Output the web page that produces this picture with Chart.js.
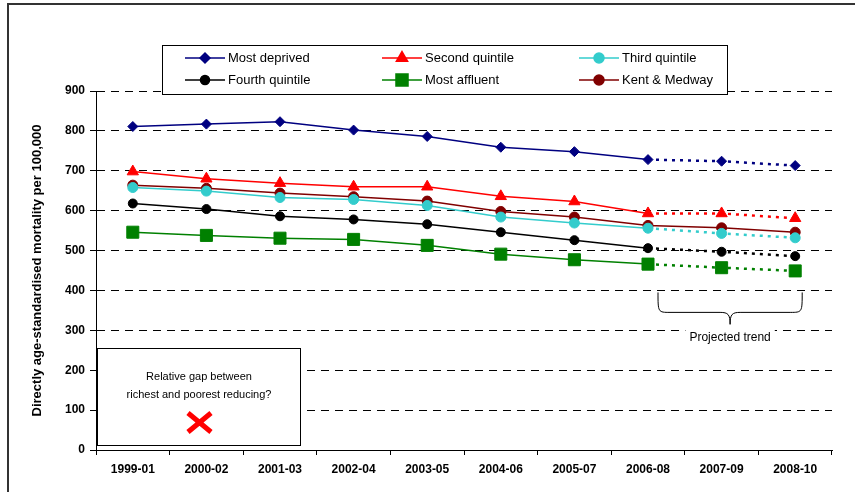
<!DOCTYPE html>
<html>
<head>
<meta charset="utf-8">
<script src="https://cdn.jsdelivr.net/npm/chart.js"></script>
<style>
  html, body { margin: 0; padding: 0; background: #fff; }
  #wrap { width: 855px; height: 492px; }
</style>
</head>
<body>
<div id="wrap"><canvas id="c" width="855" height="492"></canvas></div>
<script>
const periods = ['1999-01', '2000-02', '2001-03', '2002-04', '2003-05', '2004-06', '2005-07', '2006-08', '2007-09', '2008-10'];
const mostDeprived = [811, 817, 823, 802, 786, 759, 748, 728, 724, 713];
const secondQuintile = [698, 680, 669, 660, 660, 636, 623, 593, 593, 581];
const thirdQuintile = [658, 649, 633, 628, 613, 584, 569, 556, 543, 532];
const fourthQuintile = [618, 604, 586, 578, 566, 546, 526, 506, 497, 486];
const mostAffluent = [546, 538, 531, 528, 513, 491, 477, 466, 457, 449];
const kentMedway = [664, 656, 644, 635, 624, 598, 584, 563, 557, 546];
const yTicks = [0, 100, 200, 300, 400, 500, 600, 700, 800, 900];

const FONT = '"Liberation Sans", Arial, sans-serif';
const lastActual = 7; // 2006-08, projected after this

function series(label, data, color, style, radius, projected) {
  return {
    label, data,
    borderColor: color, backgroundColor: color,
    pointStyle: style, pointRadius: radius, pointHoverRadius: radius,
    pointBorderWidth: 1,
    borderWidth: 1.5, tension: 0,
    segment: projected ? {
      borderDash: ctx => ctx.p0DataIndex >= lastActual ? [3, 5] : undefined,
      borderWidth: ctx => ctx.p0DataIndex >= lastActual ? 2.5 : undefined
    } : {}
  };
}

const datasets = [
  series('Most deprived', mostDeprived, '#000080', 'rectRot', 5, true),
  series('Second quintile', secondQuintile, '#ff0000', 'triangle', 6.5, true),
  series('Third quintile', thirdQuintile, '#33cccc', 'circle', 5, true),
  series('Fourth quintile', fourthQuintile, '#000000', 'circle', 4.5, true),
  series('Most affluent', mostAffluent, '#008000', 'rect', 8.5, true),
  series('Kent & Medway', kentMedway, '#800000', 'circle', 5, false)
];

const extras = {
  id: 'extras',
  afterDraw(chart) {
    const c = chart.ctx;
    const y = chart.scales.y, x = chart.scales.x;
    c.save();
    // outer frame
    c.strokeStyle = '#333'; c.lineWidth = 2;
    c.beginPath(); c.moveTo(8, 492); c.lineTo(8, 4); c.lineTo(855, 4); c.stroke();

    // y title
    c.fillStyle = '#000';
    c.font = 'bold 13px ' + FONT;
    c.textAlign = 'center'; c.textBaseline = 'middle';
    c.save();
    c.translate(37, (chart.chartArea.top + chart.chartArea.bottom) / 2);
    c.rotate(-Math.PI / 2);
    c.fillText('Directly age-standardised mortality per 100,000', 0, 0);
    c.restore();

    // legend
    c.fillStyle = '#fff'; c.strokeStyle = '#000'; c.lineWidth = 1;
    c.fillRect(162.5, 45.5, 565, 49); c.strokeRect(162.5, 45.5, 565, 49);
    const cols = [185, 382, 579], rows = [58, 80];
    chart.data.datasets.forEach((ds, i) => {
      const lx = cols[i % 3], ly = rows[Math.floor(i / 3)];
      c.strokeStyle = ds.borderColor; c.lineWidth = 1.5;
      c.beginPath(); c.moveTo(lx, ly); c.lineTo(lx + 40, ly); c.stroke();
      c.fillStyle = ds.backgroundColor;
      Chart.helpers.drawPoint(c, { pointStyle: ds.pointStyle, radius: ds.pointRadius, borderWidth: 1 }, lx + 20, ly);
      c.fillStyle = '#000'; c.font = '13px ' + FONT;
      c.textAlign = 'left'; c.textBaseline = 'middle';
      c.fillText(ds.label, lx + 43, ly + 0.5);
    });

    // annotation box
    c.fillStyle = '#fff'; c.strokeStyle = '#000'; c.lineWidth = 1;
    c.fillRect(97.5, 348.5, 203, 97); c.strokeRect(97.5, 348.5, 203, 97);
    c.fillStyle = '#000'; c.font = '11px ' + FONT; c.textAlign = 'center';
    c.fillText('Relative gap between', 199, 377);
    c.fillText('richest and poorest reducing?', 199, 395);
    c.strokeStyle = '#ff0000'; c.lineWidth = 5; c.lineCap = 'butt';
    c.beginPath();
    c.moveTo(188, 413); c.lineTo(211, 432);
    c.moveTo(211, 413); c.lineTo(188, 432);
    c.stroke();

    // projected trend bracket
    const bx0 = x.getPixelForValue(7) + 10, bx1 = x.getPixelForValue(9) + 7;
    const bm = (bx0 + bx1) / 2;
    const top = y.getPixelForValue(395), mid = y.getPixelForValue(345), tip = y.getPixelForValue(315);
    c.strokeStyle = '#000'; c.lineWidth = 1;
    c.beginPath();
    c.moveTo(bx0, top);
    c.bezierCurveTo(bx0, mid, bx0, mid, bx0 + 12, mid);
    c.lineTo(bm - 10, mid);
    c.bezierCurveTo(bm - 2, mid, bm, mid + 2, bm, tip);
    c.bezierCurveTo(bm, mid + 2, bm + 2, mid, bm + 10, mid);
    c.lineTo(bx1 - 12, mid);
    c.bezierCurveTo(bx1, mid, bx1, mid, bx1, top);
    c.stroke();
    c.font = '12px ' + FONT; c.textAlign = 'center';
    const tw = c.measureText('Projected trend').width;
    c.fillStyle = '#fff';
    c.fillRect(bm - tw / 2 - 4, 330, tw + 8, 16);
    c.fillStyle = '#000';
    c.fillText('Projected trend', bm, 338);
    c.restore();
  }
};

new Chart(document.getElementById('c'), {
  type: 'line',
  data: { labels: periods, datasets },
  plugins: [extras],
  options: {
    responsive: false,
    animation: false,
    layout: { padding: { top: 91, right: 23, left: 0, bottom: 0 } },
    plugins: { legend: { display: false }, tooltip: { enabled: false } },
    scales: {
      x: {
        offset: true,
        afterFit(s) { s.height = 42; },
        grid: { display: true, drawOnChartArea: false, drawTicks: true, tickLength: 5, color: '#000', offset: true },
        border: { display: true, color: '#000', width: 1 },
        ticks: { color: '#000', font: { family: FONT, size: 12, weight: 'bold' }, padding: 7, maxRotation: 0, autoSkip: false }
      },
      y: {
        min: 0, max: 900,
        afterFit(s) { s.width = 96; },
        afterBuildTicks(s) { s.ticks = yTicks.map(v => ({ value: v })); },
        grid: { color: '#000', lineWidth: 1, tickLength: 6, tickColor: '#000', tickBorderDash: [] },
        border: { display: true, color: '#000', width: 1, dash: [8, 6] },
        ticks: { color: '#000', font: { family: FONT, size: 12, weight: 'bold' }, padding: 5 }
      }
    }
  }
});
</script>
</body>
</html>
